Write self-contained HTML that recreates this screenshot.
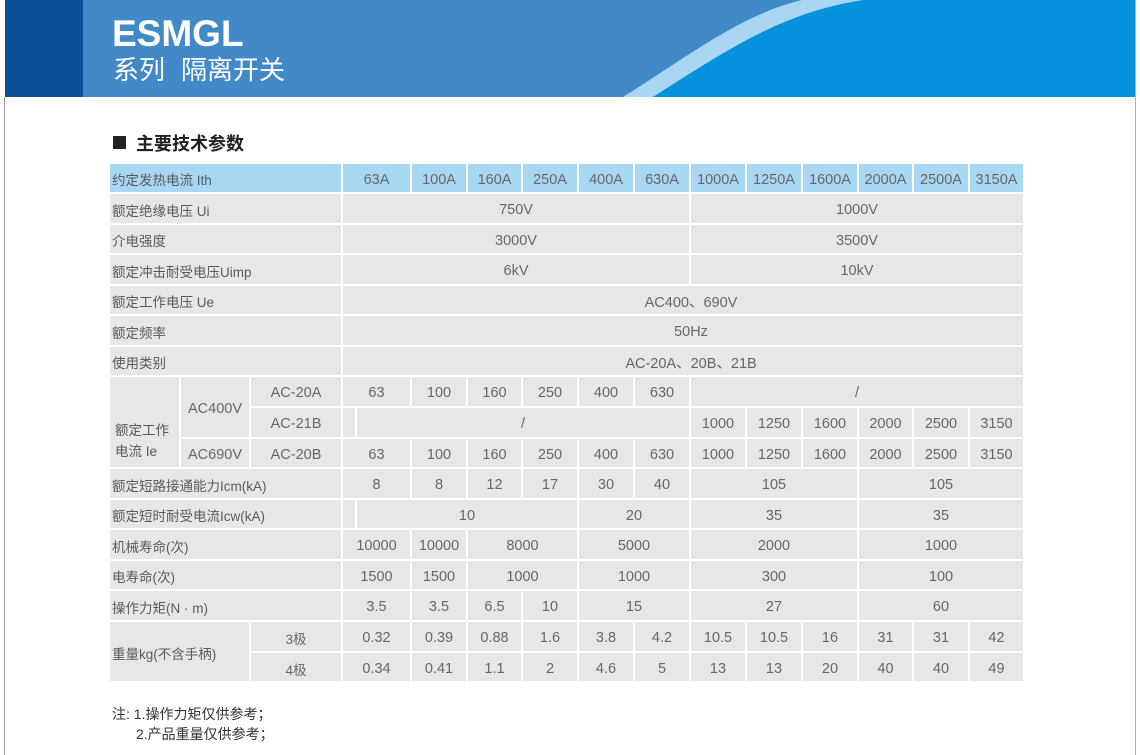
<!DOCTYPE html>
<html><head><meta charset="utf-8">
<style>
html,body{margin:0;padding:0;background:#fff;}
body{width:1140px;height:755px;position:relative;overflow:hidden;font-family:"Liberation Sans","Noto Sans CJK SC",sans-serif;}
.c{position:absolute;background:#e6e7e9;display:flex;align-items:center;justify-content:center;color:#666;font-size:14.5px;box-sizing:border-box;white-space:nowrap;padding-top:3px;}
.b{background:#a8d7f4;}
.l{justify-content:flex-start;padding-left:2px;padding-top:2px;font-size:13.5px;color:#595959;}
.t{position:absolute;white-space:nowrap;}
</style></head><body>

<!-- banner -->
<svg style="position:absolute;left:0;top:0" width="1140" height="98" viewBox="0 0 1140 98">
  <rect x="5" y="0" width="1131" height="97" fill="#4189c7"/>
  <rect x="5" y="0" width="78" height="97" fill="#0b4f97"/>
  <path d="M623,97 C690,55 740,15 802,0 L864,0 C780,12 720,55 653,97 Z" fill="#a9d6f3"/>
  <path d="M653,97 C720,55 780,12 864,0 L1136,0 L1136,97 Z" fill="#0592dc"/>
</svg>
<div style="position:absolute;left:4px;top:97px;width:1px;height:658px;background:#9a9a9a"></div>
<div style="position:absolute;left:1135px;top:0px;width:1px;height:755px;background:#b0b0b0"></div>

<div class="t" style="left:112px;top:15px;font-size:37px;line-height:37px;font-weight:bold;color:#fff;font-family:'Liberation Sans',sans-serif;">ESMGL</div>
<div class="t" style="left:113px;top:56px;font-size:26px;line-height:26px;color:#fff;font-family:'Noto Sans CJK SC',sans-serif;">系列<span style="display:inline-block;width:16px"></span>隔离开关</div>

<!-- section title -->
<div style="position:absolute;left:113px;top:136px;width:13px;height:13px;background:#222"></div>
<div class="t" style="left:136px;top:131px;font-size:18px;line-height:24px;font-weight:bold;color:#222;font-family:'Noto Sans CJK SC',sans-serif;">主要技术参数</div>

<!-- row 0 -->
<div class="c b l" style="left:110px;top:164px;width:231px;height:28px">约定发热电流 Ith</div>
<div class="c b" style="left:343px;top:164px;width:67px;height:28px">63A</div>
<div class="c b" style="left:412px;top:164px;width:54px;height:28px">100A</div>
<div class="c b" style="left:468px;top:164px;width:53px;height:28px">160A</div>
<div class="c b" style="left:523px;top:164px;width:54px;height:28px">250A</div>
<div class="c b" style="left:579px;top:164px;width:54px;height:28px">400A</div>
<div class="c b" style="left:635px;top:164px;width:54px;height:28px">630A</div>
<div class="c b" style="left:691px;top:164px;width:54px;height:28px">1000A</div>
<div class="c b" style="left:747px;top:164px;width:54px;height:28px">1250A</div>
<div class="c b" style="left:803px;top:164px;width:54px;height:28px">1600A</div>
<div class="c b" style="left:859px;top:164px;width:53px;height:28px">2000A</div>
<div class="c b" style="left:914px;top:164px;width:54px;height:28px">2500A</div>
<div class="c b" style="left:970px;top:164px;width:53px;height:28px">3150A</div>

<!-- row 1 -->
<div class="c l" style="left:110px;top:194px;width:231px;height:29px">额定绝缘电压 Ui</div>
<div class="c" style="left:343px;top:194px;width:346px;height:29px">750V</div>
<div class="c" style="left:691px;top:194px;width:332px;height:29px">1000V</div>
<!-- row 2 -->
<div class="c l" style="left:110px;top:225px;width:231px;height:28px">介电强度</div>
<div class="c" style="left:343px;top:225px;width:346px;height:28px">3000V</div>
<div class="c" style="left:691px;top:225px;width:332px;height:28px">3500V</div>
<!-- row 3 -->
<div class="c l" style="left:110px;top:255px;width:231px;height:29px">额定冲击耐受电压Uimp</div>
<div class="c" style="left:343px;top:255px;width:346px;height:29px">6kV</div>
<div class="c" style="left:691px;top:255px;width:332px;height:29px">10kV</div>
<!-- row 4 -->
<div class="c l" style="left:110px;top:286px;width:231px;height:28px">额定工作电压 Ue</div>
<div class="c" style="left:343px;top:286px;width:680px;height:28px;padding-left:16px">AC400、690V</div>
<!-- row 5 -->
<div class="c l" style="left:110px;top:316px;width:231px;height:29px">额定频率</div>
<div class="c" style="left:343px;top:316px;width:680px;height:29px;padding-left:16px">50Hz</div>
<!-- row 6 -->
<div class="c l" style="left:110px;top:347px;width:231px;height:28px">使用类别</div>
<div class="c" style="left:343px;top:347px;width:680px;height:28px;padding-left:16px">AC-20A、20B、21B</div>

<!-- rows 7-9 -->
<div class="c l" style="left:110px;top:377px;width:69px;height:90px;align-items:flex-start;padding-left:5px;padding-top:43px;line-height:21px;white-space:normal">额定工作<br>电流 Ie</div>
<div class="c" style="left:181px;top:377px;width:68px;height:60px">AC400V</div>
<div class="c" style="left:181px;top:439px;width:68px;height:28px">AC690V</div>

<div class="c" style="left:251px;top:377px;width:90px;height:29px">AC-20A</div>
<div class="c" style="left:343px;top:377px;width:67px;height:29px">63</div>
<div class="c" style="left:412px;top:377px;width:54px;height:29px">100</div>
<div class="c" style="left:468px;top:377px;width:53px;height:29px">160</div>
<div class="c" style="left:523px;top:377px;width:54px;height:29px">250</div>
<div class="c" style="left:579px;top:377px;width:54px;height:29px">400</div>
<div class="c" style="left:635px;top:377px;width:54px;height:29px">630</div>
<div class="c" style="left:691px;top:377px;width:332px;height:29px">/</div>

<div class="c" style="left:251px;top:408px;width:90px;height:29px">AC-21B</div>
<div class="c" style="left:343px;top:408px;width:12px;height:29px"></div>
<div class="c" style="left:357px;top:408px;width:332px;height:29px">/</div>
<div class="c" style="left:691px;top:408px;width:54px;height:29px">1000</div>
<div class="c" style="left:747px;top:408px;width:54px;height:29px">1250</div>
<div class="c" style="left:803px;top:408px;width:54px;height:29px">1600</div>
<div class="c" style="left:859px;top:408px;width:53px;height:29px">2000</div>
<div class="c" style="left:914px;top:408px;width:54px;height:29px">2500</div>
<div class="c" style="left:970px;top:408px;width:53px;height:29px">3150</div>

<div class="c" style="left:251px;top:439px;width:90px;height:28px">AC-20B</div>
<div class="c" style="left:343px;top:439px;width:67px;height:28px">63</div>
<div class="c" style="left:412px;top:439px;width:54px;height:28px">100</div>
<div class="c" style="left:468px;top:439px;width:53px;height:28px">160</div>
<div class="c" style="left:523px;top:439px;width:54px;height:28px">250</div>
<div class="c" style="left:579px;top:439px;width:54px;height:28px">400</div>
<div class="c" style="left:635px;top:439px;width:54px;height:28px">630</div>
<div class="c" style="left:691px;top:439px;width:54px;height:28px">1000</div>
<div class="c" style="left:747px;top:439px;width:54px;height:28px">1250</div>
<div class="c" style="left:803px;top:439px;width:54px;height:28px">1600</div>
<div class="c" style="left:859px;top:439px;width:53px;height:28px">2000</div>
<div class="c" style="left:914px;top:439px;width:54px;height:28px">2500</div>
<div class="c" style="left:970px;top:439px;width:53px;height:28px">3150</div>

<!-- row 10 -->
<div class="c l" style="left:110px;top:469px;width:231px;height:29px">额定短路接通能力Icm(kA)</div>
<div class="c" style="left:343px;top:469px;width:67px;height:29px">8</div>
<div class="c" style="left:412px;top:469px;width:54px;height:29px">8</div>
<div class="c" style="left:468px;top:469px;width:53px;height:29px">12</div>
<div class="c" style="left:523px;top:469px;width:54px;height:29px">17</div>
<div class="c" style="left:579px;top:469px;width:54px;height:29px">30</div>
<div class="c" style="left:635px;top:469px;width:54px;height:29px">40</div>
<div class="c" style="left:691px;top:469px;width:166px;height:29px">105</div>
<div class="c" style="left:859px;top:469px;width:164px;height:29px">105</div>

<!-- row 11 -->
<div class="c l" style="left:110px;top:500px;width:231px;height:28px">额定短时耐受电流Icw(kA)</div>
<div class="c" style="left:343px;top:500px;width:12px;height:28px"></div>
<div class="c" style="left:357px;top:500px;width:220px;height:28px">10</div>
<div class="c" style="left:579px;top:500px;width:110px;height:28px">20</div>
<div class="c" style="left:691px;top:500px;width:166px;height:28px">35</div>
<div class="c" style="left:859px;top:500px;width:164px;height:28px">35</div>

<!-- row 12 -->
<div class="c l" style="left:110px;top:530px;width:231px;height:29px">机械寿命(次)</div>
<div class="c" style="left:343px;top:530px;width:67px;height:29px">10000</div>
<div class="c" style="left:412px;top:530px;width:54px;height:29px">10000</div>
<div class="c" style="left:468px;top:530px;width:109px;height:29px">8000</div>
<div class="c" style="left:579px;top:530px;width:110px;height:29px">5000</div>
<div class="c" style="left:691px;top:530px;width:166px;height:29px">2000</div>
<div class="c" style="left:859px;top:530px;width:164px;height:29px">1000</div>

<!-- row 13 -->
<div class="c l" style="left:110px;top:561px;width:231px;height:28px">电寿命(次)</div>
<div class="c" style="left:343px;top:561px;width:67px;height:28px">1500</div>
<div class="c" style="left:412px;top:561px;width:54px;height:28px">1500</div>
<div class="c" style="left:468px;top:561px;width:109px;height:28px">1000</div>
<div class="c" style="left:579px;top:561px;width:110px;height:28px">1000</div>
<div class="c" style="left:691px;top:561px;width:166px;height:28px">300</div>
<div class="c" style="left:859px;top:561px;width:164px;height:28px">100</div>

<!-- row 14 -->
<div class="c l" style="left:110px;top:591px;width:231px;height:29px">操作力矩(N · m)</div>
<div class="c" style="left:343px;top:591px;width:67px;height:29px">3.5</div>
<div class="c" style="left:412px;top:591px;width:54px;height:29px">3.5</div>
<div class="c" style="left:468px;top:591px;width:53px;height:29px">6.5</div>
<div class="c" style="left:523px;top:591px;width:54px;height:29px">10</div>
<div class="c" style="left:579px;top:591px;width:110px;height:29px">15</div>
<div class="c" style="left:691px;top:591px;width:166px;height:29px">27</div>
<div class="c" style="left:859px;top:591px;width:164px;height:29px">60</div>

<!-- rows 15-16 -->
<div class="c l" style="left:110px;top:622px;width:139px;height:59px">重量kg(不含手柄)</div>
<div class="c" style="left:251px;top:622px;width:90px;height:29px;font-size:13.5px">3极</div>
<div class="c" style="left:343px;top:622px;width:67px;height:29px">0.32</div>
<div class="c" style="left:412px;top:622px;width:54px;height:29px">0.39</div>
<div class="c" style="left:468px;top:622px;width:53px;height:29px">0.88</div>
<div class="c" style="left:523px;top:622px;width:54px;height:29px">1.6</div>
<div class="c" style="left:579px;top:622px;width:54px;height:29px">3.8</div>
<div class="c" style="left:635px;top:622px;width:54px;height:29px">4.2</div>
<div class="c" style="left:691px;top:622px;width:54px;height:29px">10.5</div>
<div class="c" style="left:747px;top:622px;width:54px;height:29px">10.5</div>
<div class="c" style="left:803px;top:622px;width:54px;height:29px">16</div>
<div class="c" style="left:859px;top:622px;width:53px;height:29px">31</div>
<div class="c" style="left:914px;top:622px;width:54px;height:29px">31</div>
<div class="c" style="left:970px;top:622px;width:53px;height:29px">42</div>

<div class="c" style="left:251px;top:653px;width:90px;height:28px;font-size:13.5px">4极</div>
<div class="c" style="left:343px;top:653px;width:67px;height:28px">0.34</div>
<div class="c" style="left:412px;top:653px;width:54px;height:28px">0.41</div>
<div class="c" style="left:468px;top:653px;width:53px;height:28px">1.1</div>
<div class="c" style="left:523px;top:653px;width:54px;height:28px">2</div>
<div class="c" style="left:579px;top:653px;width:54px;height:28px">4.6</div>
<div class="c" style="left:635px;top:653px;width:54px;height:28px">5</div>
<div class="c" style="left:691px;top:653px;width:54px;height:28px">13</div>
<div class="c" style="left:747px;top:653px;width:54px;height:28px">13</div>
<div class="c" style="left:803px;top:653px;width:54px;height:28px">20</div>
<div class="c" style="left:859px;top:653px;width:53px;height:28px">40</div>
<div class="c" style="left:914px;top:653px;width:54px;height:28px">40</div>
<div class="c" style="left:970px;top:653px;width:53px;height:28px">49</div>

<!-- notes -->
<div class="t" style="left:112px;top:704px;font-size:14px;line-height:20px;color:#333">注: 1.操作力矩仅供参考；</div>
<div class="t" style="left:136px;top:724px;font-size:14px;line-height:20px;color:#333">2.产品重量仅供参考；</div>

</body></html>
